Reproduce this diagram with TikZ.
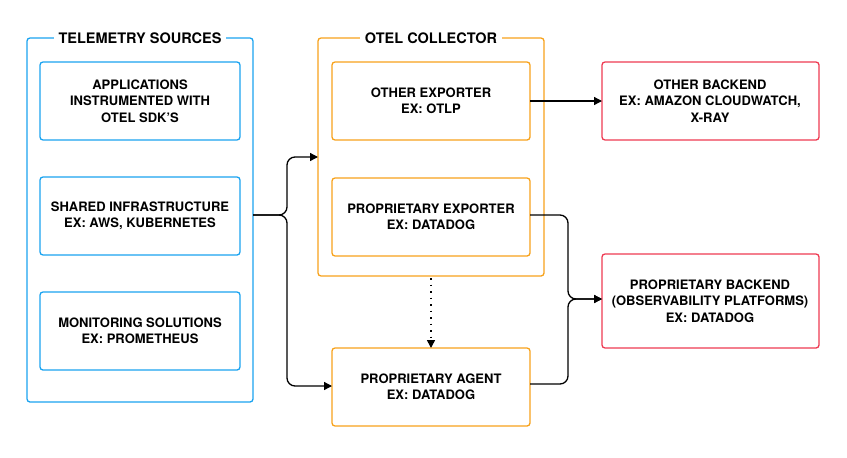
\documentclass[tikz,border=0pt]{standalone}
\usepackage{fontspec}
\setmainfont{TeX Gyre Heros}
\usetikzlibrary{arrows.meta}
\definecolor{cblue}{HTML}{1AA3F0}
\definecolor{corange}{HTML}{F7A21B}
\definecolor{cred}{HTML}{EE3A52}
\begin{document}
\begin{tikzpicture}[x=1pt,y=-1pt,
  txt/.style={font=\fontsize{13}{16.5}\selectfont\bfseries,align=center},
  ttl/.style={font=\fontsize{14.5}{17}\selectfont\bfseries,fill=white,inner sep=5pt},
  bb/.style={draw=cblue,line width=1.3pt,rounded corners=3pt},
  ob/.style={draw=corange,line width=1.3pt,rounded corners=3pt},
  rb/.style={draw=cred,line width=1.3pt,rounded corners=3pt},
  conn/.style={line width=1.3pt,rounded corners=8pt,-{Triangle[length=8pt,width=8pt]}}]
\useasboundingbox (0,0) rectangle (847,458);
\draw[bb] (27,38) rectangle (253,402);
\node[ttl] (t1) at (140,38) {TELEMETRY SOURCES};
\draw[bb] (40,62) rectangle (240,140); \node[txt] (a1) at (140,101) {APPLICATIONS\\INSTRUMENTED WITH\\OTEL SDK'S};
\draw[bb] (40,177) rectangle (240,255); \node[txt] (a2) at (140,216) {SHARED INFRASTRUCTURE\\EX: AWS, KUBERNETES};
\draw[bb] (40,292) rectangle (240,370); \node[txt] (a3) at (140,331) {MONITORING SOLUTIONS\\EX: PROMETHEUS};
\draw[ob] (318,38) rectangle (544,276);
\node[ttl] (t2) at (431,38) {OTEL COLLECTOR};
\draw[ob] (332,62) rectangle (530,140); \node[txt] (o1) at (431,101) {OTHER EXPORTER\\EX: OTLP};
\draw[ob] (332,178) rectangle (530,256); \node[txt] (o2) at (431,217) {PROPRIETARY EXPORTER\\EX: DATADOG};
\draw[ob] (332,348) rectangle (530,426); \node[txt] (ag) at (431,387) {PROPRIETARY AGENT\\EX: DATADOG};
\draw[rb] (602,62) rectangle (819,140); \node[txt] (b1) at (710,101) {OTHER BACKEND\\EX: AMAZON CLOUDWATCH,\\X-RAY};
\draw[rb] (602,254) rectangle (819,348); \node[txt] (b2) at (710,301) {PROPRIETARY BACKEND\\(OBSERVABILITY PLATFORMS)\\EX: DATADOG};
\coordinate (s) at (253,215);
\coordinate (c1) at (318,157);
\coordinate (c2) at (332,386);
\coordinate (p) at (602,299);
\draw[conn] (s) -- (287,215) -- (287,157) -- (c1);
\draw[conn] (s) -- (287,215) -- (287,386) -- (c2);
\draw[conn] (530,215) -- (568,215) -- (568,299) -- (p);
\draw[conn] (530,384) -- (568,384) -- (568,299) -- (p);
\draw[conn] (530,101) -- (602,101);
\draw[line width=1.5pt,dash pattern=on 1.5pt off 5pt,-{Triangle[length=8pt,width=8pt]}] (431,278) -- (431,348);
\end{tikzpicture}
\end{document}
